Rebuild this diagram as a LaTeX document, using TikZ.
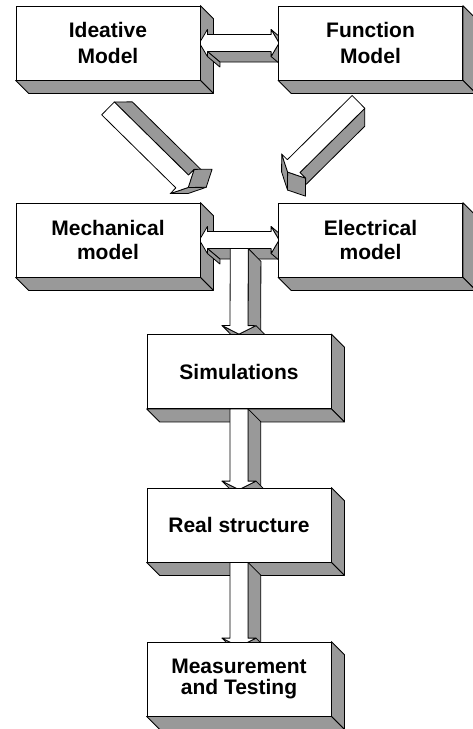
\documentclass[tikz,border=0pt]{standalone}
\usepackage{fontspec}
\setsansfont{Liberation Sans}
\usetikzlibrary{calc}
\definecolor{shade}{gray}{0.6}
\pgfdeclarelayer{sides}
\pgfdeclarelayer{fronts}
\pgfsetlayers{sides,main,fronts}
\newcommand\boxfont[1]{\sffamily\bfseries\fontsize{21}{#1}\selectfont}
\tikzset{
  block/.style={draw, fill=white, line width=0.8pt, minimum width=184pt, minimum height=74pt,
    inner sep=0pt, align=center, font=\boxfont{23.5}},
  grayface/.style={draw, fill=shade, line width=0.8pt, line join=round},
  whiteface/.style={draw, fill=white, line width=0.8pt, line join=round}
}
\newcommand\boxsides[1]{%
  \draw[grayface] (#1.north east) -- ++(13,13) -- ([shift={(13,13)}]#1.south east) -- (#1.south east) -- cycle;
  \draw[grayface] (#1.south west) -- ++(13,13) -- ([shift={(13,13)}]#1.south east) -- (#1.south east) -- cycle;}
\newcommand\arrowframe[2]{%
  \path let \p1=($(#2)-(#1)$) in
    \pgfextra{\pgfmathparse{atan2(\y1,\x1)}\xdef\arrang{\pgfmathresult}%
      \pgfmathparse{veclen(\x1,\y1)}\xdef\arrlen{\pgfmathresult}};}
\newcommand\blockarrow[2]{%
  \arrowframe{#1}{#2}
  \pgfmathsetmacro\arrbase{\arrlen-8.5}
  \begin{scope}[shift={(#1)},rotate=\arrang,x=1pt,y=1pt]
    \draw[grayface] (0,9) -- (\arrbase,9) -- ++(12.7,12.7) -- (12.7,21.7) -- cycle;
    \draw[grayface] (\arrbase,-17) -- (\arrlen,0) -- ++(12.7,12.7) -- ({\arrbase+12.7},-4.3) -- cycle;
    \draw[grayface] (\arrbase,17) -- (\arrlen,0) -- ++(12.7,12.7) -- ({\arrbase+12.7},29.7) -- cycle;
    \draw[whiteface] (0,-9) -- (\arrbase,-9) -- (\arrbase,-17) -- (\arrlen,0)
      -- (\arrbase,17) -- (\arrbase,9) -- (0,9) -- cycle;
  \end{scope}}
\newcommand\twowayarrow[2]{%
  \arrowframe{#1}{#2}
  \pgfmathsetmacro\arrend{\arrlen+1}
  \pgfmathsetmacro\barbr{\arrend-8}
  \begin{scope}[shift={(#1)},rotate=\arrang,x=1pt,y=1pt]
    \draw[grayface] (7,-8.5) -- (\barbr,-8.5) -- ++(12.5,-10.5) -- (19.5,-19) -- cycle;
    \draw[grayface] (7,-8.5) -- (7,-13.5) -- ++(12.5,-10.5) -- (19.5,-19) -- cycle;
    \draw[grayface] (\barbr,-13.5) -- (\arrend,0) -- ++(12.5,-10.5) -- ({\barbr+12.5},-24) -- cycle;
    \draw[grayface] (\barbr,13.5) -- (\arrend,0) -- ++(12.5,-10.5) -- ({\barbr+12.5},3) -- cycle;
    \draw[whiteface] (-1,0) -- (7,13.5) -- (7,8.5) -- (\barbr,8.5) -- (\barbr,13.5) -- (\arrend,0)
      -- (\barbr,-13.5) -- (\barbr,-8.5) -- (7,-8.5) -- (7,-13.5) -- cycle;
  \end{scope}}

\begin{document}
\begin{tikzpicture}[x=1pt,y=-1pt]
  \useasboundingbox (0,0) rectangle (472,729);
  \begin{pgfonlayer}{fronts}
    \node[block, font=\boxfont{26}] (ideative) at (108,43) {Ideative\\Model};
    \node[block, font=\boxfont{26}] (function) at (370.5,43) {Function\\Model};
    \node[block] (mech) at (108,240) {Mechanical\\model};
    \node[block] (elec) at (370.5,240) {Electrical\\model};
    \node[block] (sim) at (239,371.5) {Simulations};
    \node[block] (real) at (239,525) {Real structure};
    \node[block, font=\boxfont{21}] (meas) at (239,679) {Measurement\\and Testing};
  \end{pgfonlayer}
  \begin{pgfonlayer}{sides}
    \foreach \b in {ideative,function,mech,elec,sim,real,meas} {\boxsides{\b}}
  \end{pgfonlayer}
  \coordinate (ideaout) at ($(ideative.south)+(0,28)$);
  \coordinate (mechin) at ($(mech.north east)+(-12,-15)$);
  \coordinate (funcout) at ($(function.south)+(-12,21.5)$);
  \coordinate (elecin) at ($(elec.north west)+(9.5,-30.5)$);
  \coordinate (hub) at ($(mech.east)!.5!(elec.west)+(0,8.5)$);
  \coordinate (realin) at ($(real.north)+(0,2)$);
  \coordinate (measin) at ($(meas.north)+(0,5)$);
  \twowayarrow{ideative.east}{function.west}
  \blockarrow{ideaout}{mechin}
  \blockarrow{funcout}{elecin}
  \twowayarrow{mech.east}{elec.west}
  \blockarrow{hub}{sim.north}
  \blockarrow{sim.south}{realin}
  \blockarrow{real.south}{measin}
\end{tikzpicture}
\end{document}
